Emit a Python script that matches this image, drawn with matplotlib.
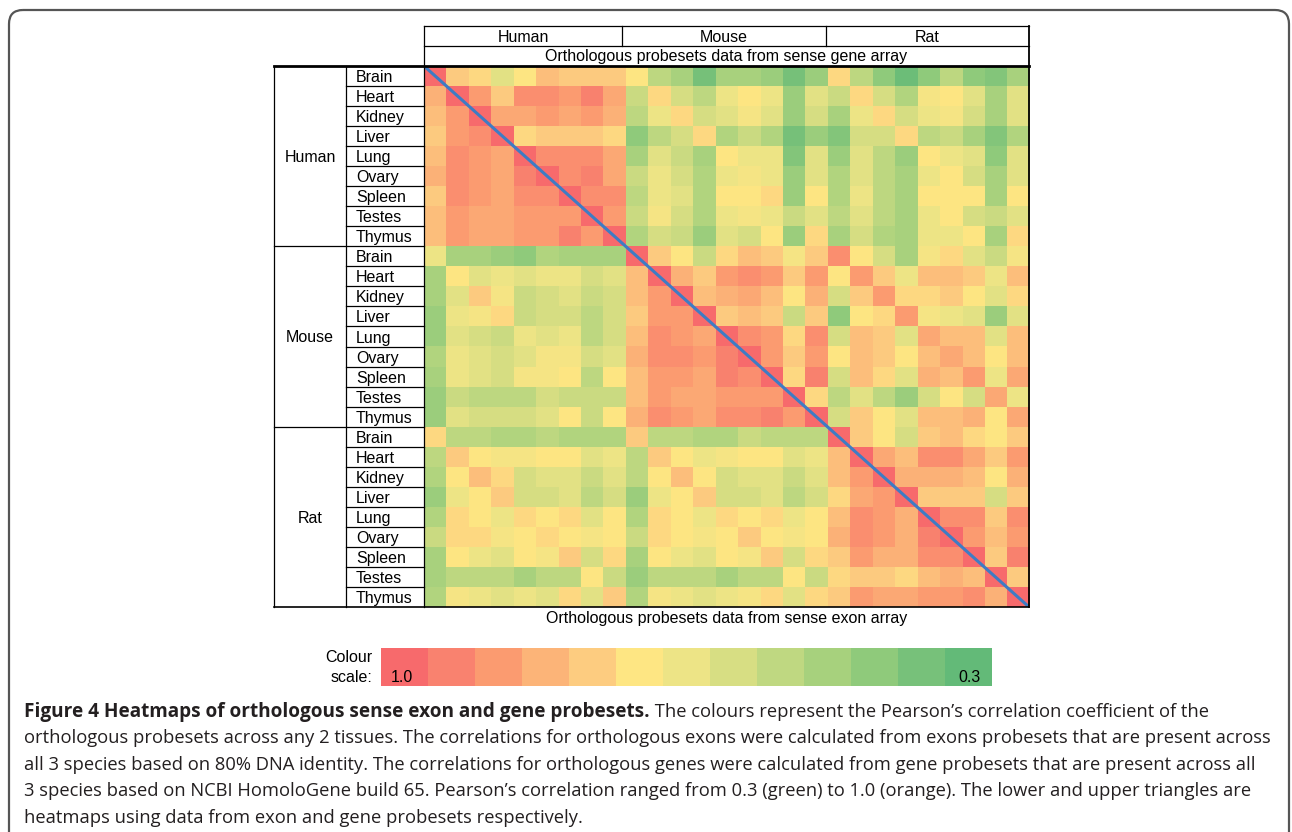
import numpy as np
import matplotlib
matplotlib.use("Agg")
import matplotlib.pyplot as plt
from matplotlib.colors import LinearSegmentedColormap, ListedColormap, Normalize
from matplotlib.patches import FancyBboxPatch

W, H = 1292, 832

species = ["Human", "Mouse", "Rat"]
tissues = ["Brain", "Heart", "Kidney", "Liver", "Lung", "Ovary", "Spleen", "Testes", "Thymus"]

# colour scale steps, 1.0 (left) -> 0.3 (right)
scale_colors = ["#F76A6C", "#F9826F", "#FB9B70", "#FCB478", "#FDCC80", "#FEE683", "#EDE486",
                "#D7DE83", "#BFD881", "#A7D17D", "#8FCA7B", "#77C17A", "#63BA78"]
scale_range = [1.0, 0.3]

# Pearson correlation, rows/cols = Human, Mouse, Rat x 9 tissues
# lower triangle: exon array, upper triangle: gene array
corr_human = [
    [1.00, 0.77, 0.74, 0.62, 0.71, 0.80, 0.77, 0.77, 0.77, 0.71, 0.53, 0.48, 0.36, 0.48, 0.48, 0.45, 0.36, 0.45, 0.74, 0.53, 0.42, 0.33, 0.42, 0.53, 0.42, 0.39, 0.48],
    [0.83, 1.00, 0.88, 0.77, 0.91, 0.91, 0.88, 0.94, 0.85, 0.56, 0.74, 0.59, 0.53, 0.65, 0.71, 0.65, 0.45, 0.62, 0.56, 0.74, 0.59, 0.50, 0.68, 0.71, 0.62, 0.48, 0.62],
    [0.80, 0.88, 1.00, 0.85, 0.85, 0.88, 0.85, 0.88, 0.83, 0.53, 0.65, 0.74, 0.59, 0.62, 0.68, 0.62, 0.45, 0.59, 0.48, 0.65, 0.74, 0.59, 0.65, 0.68, 0.59, 0.48, 0.62],
    [0.77, 0.88, 0.91, 1.00, 0.74, 0.77, 0.77, 0.77, 0.74, 0.42, 0.53, 0.59, 0.74, 0.50, 0.56, 0.50, 0.36, 0.45, 0.39, 0.59, 0.59, 0.74, 0.53, 0.56, 0.48, 0.39, 0.50],
    [0.80, 0.91, 0.88, 0.85, 1.00, 0.91, 0.91, 0.91, 0.85, 0.48, 0.62, 0.56, 0.48, 0.71, 0.65, 0.65, 0.39, 0.62, 0.45, 0.62, 0.53, 0.45, 0.71, 0.65, 0.62, 0.42, 0.62],
    [0.83, 0.91, 0.88, 0.85, 0.94, 1.00, 0.91, 0.94, 0.85, 0.56, 0.65, 0.59, 0.50, 0.65, 0.68, 0.65, 0.45, 0.62, 0.50, 0.62, 0.53, 0.48, 0.65, 0.71, 0.59, 0.48, 0.62],
    [0.77, 0.91, 0.88, 0.85, 0.91, 0.91, 1.00, 0.91, 0.91, 0.53, 0.65, 0.62, 0.50, 0.71, 0.71, 0.74, 0.45, 0.71, 0.50, 0.65, 0.53, 0.48, 0.71, 0.71, 0.71, 0.48, 0.71],
    [0.80, 0.88, 0.85, 0.85, 0.88, 0.88, 0.88, 1.00, 0.88, 0.56, 0.68, 0.59, 0.50, 0.65, 0.68, 0.65, 0.56, 0.62, 0.53, 0.62, 0.53, 0.48, 0.65, 0.71, 0.59, 0.56, 0.62],
    [0.80, 0.88, 0.85, 0.85, 0.88, 0.88, 0.94, 0.88, 1.00, 0.50, 0.59, 0.56, 0.45, 0.62, 0.59, 0.71, 0.45, 0.74, 0.48, 0.59, 0.50, 0.48, 0.65, 0.65, 0.71, 0.48, 0.74],
]
corr_mouse = [
    [0.65, 0.48, 0.48, 0.45, 0.42, 0.50, 0.48, 0.48, 0.48, 1.00, 0.77, 0.71, 0.56, 0.74, 0.80, 0.77, 0.68, 0.77, 0.91, 0.71, 0.59, 0.48, 0.68, 0.74, 0.62, 0.56, 0.68],
    [0.48, 0.71, 0.62, 0.65, 0.62, 0.65, 0.65, 0.59, 0.62, 0.80, 1.00, 0.83, 0.77, 0.88, 0.91, 0.88, 0.77, 0.88, 0.71, 0.88, 0.77, 0.65, 0.80, 0.80, 0.77, 0.65, 0.80],
    [0.48, 0.62, 0.77, 0.68, 0.56, 0.59, 0.62, 0.56, 0.59, 0.80, 0.88, 1.00, 0.80, 0.83, 0.85, 0.80, 0.71, 0.83, 0.59, 0.77, 0.88, 0.74, 0.74, 0.77, 0.71, 0.62, 0.74],
    [0.45, 0.65, 0.68, 0.74, 0.56, 0.59, 0.59, 0.53, 0.59, 0.77, 0.88, 0.88, 1.00, 0.77, 0.80, 0.77, 0.56, 0.77, 0.42, 0.71, 0.74, 0.88, 0.68, 0.65, 0.62, 0.45, 0.62],
    [0.45, 0.62, 0.59, 0.56, 0.65, 0.62, 0.65, 0.53, 0.59, 0.80, 0.91, 0.88, 0.85, 1.00, 0.91, 0.88, 0.74, 0.91, 0.59, 0.80, 0.77, 0.62, 0.85, 0.80, 0.80, 0.62, 0.80],
    [0.50, 0.65, 0.62, 0.59, 0.62, 0.68, 0.68, 0.59, 0.62, 0.83, 0.91, 0.91, 0.88, 0.94, 1.00, 0.88, 0.77, 0.88, 0.71, 0.80, 0.77, 0.71, 0.80, 0.85, 0.80, 0.71, 0.80],
    [0.48, 0.65, 0.62, 0.59, 0.68, 0.68, 0.71, 0.53, 0.71, 0.80, 0.88, 0.88, 0.85, 0.94, 0.91, 1.00, 0.74, 0.94, 0.59, 0.80, 0.74, 0.62, 0.83, 0.80, 0.88, 0.65, 0.85],
    [0.45, 0.56, 0.53, 0.53, 0.53, 0.59, 0.56, 0.56, 0.56, 0.80, 0.88, 0.85, 0.85, 0.88, 0.88, 0.88, 1.00, 0.74, 0.53, 0.62, 0.53, 0.45, 0.59, 0.71, 0.59, 0.85, 0.65],
    [0.45, 0.62, 0.59, 0.59, 0.59, 0.62, 0.71, 0.56, 0.71, 0.83, 0.91, 0.88, 0.85, 0.91, 0.91, 0.94, 0.88, 1.00, 0.59, 0.77, 0.71, 0.62, 0.80, 0.80, 0.83, 0.71, 0.85],
]
corr_rat = [
    [0.74, 0.53, 0.53, 0.50, 0.50, 0.53, 0.50, 0.50, 0.50, 0.77, 0.53, 0.53, 0.50, 0.50, 0.56, 0.53, 0.53, 0.53, 1.00, 0.77, 0.71, 0.59, 0.77, 0.80, 0.74, 0.71, 0.77],
    [0.53, 0.77, 0.71, 0.68, 0.68, 0.71, 0.71, 0.62, 0.65, 0.53, 0.77, 0.71, 0.65, 0.68, 0.71, 0.71, 0.62, 0.65, 0.80, 1.00, 0.85, 0.80, 0.91, 0.91, 0.85, 0.77, 0.88],
    [0.50, 0.71, 0.80, 0.74, 0.59, 0.62, 0.62, 0.56, 0.62, 0.53, 0.71, 0.80, 0.71, 0.59, 0.62, 0.62, 0.56, 0.62, 0.80, 0.88, 1.00, 0.83, 0.83, 0.83, 0.80, 0.71, 0.83],
    [0.45, 0.65, 0.71, 0.77, 0.59, 0.59, 0.62, 0.53, 0.59, 0.45, 0.65, 0.71, 0.77, 0.59, 0.59, 0.62, 0.53, 0.59, 0.74, 0.85, 0.88, 1.00, 0.77, 0.77, 0.77, 0.59, 0.77],
    [0.50, 0.74, 0.71, 0.65, 0.74, 0.71, 0.74, 0.62, 0.71, 0.50, 0.74, 0.71, 0.65, 0.74, 0.71, 0.74, 0.65, 0.71, 0.80, 0.91, 0.88, 0.83, 1.00, 0.91, 0.91, 0.77, 0.91],
    [0.56, 0.74, 0.74, 0.68, 0.71, 0.74, 0.71, 0.68, 0.71, 0.56, 0.74, 0.71, 0.68, 0.71, 0.77, 0.71, 0.68, 0.71, 0.83, 0.91, 0.88, 0.83, 0.94, 1.00, 0.88, 0.80, 0.88],
    [0.48, 0.71, 0.65, 0.62, 0.71, 0.68, 0.77, 0.59, 0.74, 0.48, 0.71, 0.65, 0.62, 0.71, 0.68, 0.77, 0.59, 0.74, 0.77, 0.88, 0.83, 0.83, 0.91, 0.91, 1.00, 0.77, 0.94],
    [0.48, 0.53, 0.53, 0.53, 0.48, 0.53, 0.53, 0.71, 0.56, 0.45, 0.53, 0.53, 0.53, 0.48, 0.53, 0.53, 0.71, 0.56, 0.74, 0.77, 0.77, 0.74, 0.80, 0.83, 0.80, 1.00, 0.77],
    [0.50, 0.68, 0.65, 0.62, 0.65, 0.62, 0.74, 0.62, 0.77, 0.50, 0.68, 0.65, 0.62, 0.65, 0.68, 0.74, 0.62, 0.74, 0.77, 0.88, 0.85, 0.85, 0.88, 0.88, 0.91, 0.83, 1.00],
]

top_label = "Orthologous probesets data from sense gene array"
bottom_label = "Orthologous probesets data from sense exon array"
caption_bold = "Figure 4 Heatmaps of orthologous sense exon and gene probesets."
caption_lines = [
    " The colours represent the Pearson\u2019s correlation coefficient of the",
    "orthologous probesets across any 2 tissues. The correlations for orthologous exons were calculated from exons probesets that are present across",
    "all 3 species based on 80% DNA identity. The correlations for orthologous genes were calculated from gene probesets that are present across all",
    "3 species based on NCBI HomoloGene build 65. Pearson\u2019s correlation ranged from 0.3 (green) to 1.0 (orange). The lower and upper triangles are",
    "heatmaps using data from exon and gene probesets respectively.",
]

corr = np.vstack([corr_human, corr_mouse, corr_rat])
n = corr.shape[0]
nt = len(tissues)

# geometry in pixels (y from top)
hx0, hx1, hy0, hy1 = 424, 1029, 66, 607
cell_h = (hy1 - hy0) / n
lab_font = "Liberation Sans"
lab_size = 11.5

fig = plt.figure(figsize=(W / 100, H / 100), dpi=100)

# heatmap
ax = fig.add_axes([hx0 / W, 1 - hy1 / H, (hx1 - hx0) / W, (hy1 - hy0) / H])
cmap = LinearSegmentedColormap.from_list("corr", scale_colors[::-1])
ax.imshow(corr, cmap=cmap, norm=Normalize(scale_range[1], scale_range[0]),
          aspect="auto", interpolation="nearest")
ax.plot([-0.5, n - 0.5], [-0.5, n - 0.5], color="#3E7CC4", lw=2.2, solid_capstyle="butt")
ax.set_xlim(-0.5, n - 0.5)
ax.set_ylim(n - 0.5, -0.5)
ax.axis("off")

# colour scale bar
sx0, sx1, sy0, sy1 = 381, 992, 648, 686
sax = fig.add_axes([sx0 / W, 1 - sy1 / H, (sx1 - sx0) / W, (sy1 - sy0) / H])
steps = np.linspace(scale_range[0], scale_range[1], len(scale_colors))
sax.imshow(steps[None, :], cmap=ListedColormap(scale_colors[::-1]),
           norm=Normalize(scale_range[1], scale_range[0]), aspect="auto")
sax.axis("off")

# overlay in pixel coordinates for table lines and text
ov = fig.add_axes([0, 0, 1, 1])
ov.set_xlim(0, W)
ov.set_ylim(H, 0)
ov.axis("off")


def hl(y, x0, x1, lw=0.9):
    ov.plot([x0, x1], [y, y], color="black", lw=lw, solid_capstyle="projecting")


def vl(x, y0, y1, lw=0.9):
    ov.plot([x, x], [y0, y1], color="black", lw=lw, solid_capstyle="projecting")


# outer frame
ov.add_patch(FancyBboxPatch((9, 10), 1280, 900, boxstyle="round,pad=0,rounding_size=14",
                            fc="none", ec="#555555", lw=1.6))

# header box
hl(26, hx0, hx1)
hl(46, hx0, hx1)
col_edges = [hx0, 622, 826, hx1]
for x in col_edges[1:-1]:
    vl(x, 26, 46)
for i, sp in enumerate(species):
    ov.text((col_edges[i] + col_edges[i + 1]) / 2, 37, sp, ha="center", va="center",
            family=lab_font, fontsize=lab_size)
ov.text((hx0 + hx1) / 2, 57, top_label, ha="center", va="center",
        family=lab_font, fontsize=lab_size)

# side table
tx0, tx1 = 274, 346
vl(hx0, 26, hy1)
vl(hx1, 26, hy1, lw=1.3)
vl(tx0, hy0, hy1)
vl(tx1, hy0, hy1)
hl(hy0, tx0, hx1, lw=2.0)
hl(hy1, tx0, hx1, lw=1.2)
for r in range(1, n):
    y = hy0 + r * cell_h
    hl(y, tx0 if r % nt == 0 else tx1, hx0)
for r in range(n):
    ov.text(356, hy0 + (r + 0.5) * cell_h + 1.5, tissues[r % nt], ha="left", va="center",
            family=lab_font, fontsize=lab_size)
for k, sp in enumerate(species):
    ov.text((tx0 + tx1) / 2, hy0 + (k + 0.5) * nt * cell_h + 1.5, sp, ha="center", va="center",
            family=lab_font, fontsize=lab_size)
ov.text((hx0 + hx1) / 2, 619, bottom_label, ha="center", va="center",
        family=lab_font, fontsize=lab_size)

# colour scale labels
ov.text(372, 658, "Colour", ha="right", va="center", family=lab_font, fontsize=lab_size)
ov.text(372, 677, "scale:", ha="right", va="center", family=lab_font, fontsize=lab_size)
ov.text(391, 678, f"{scale_range[0]:.1f}", ha="left", va="center", family=lab_font, fontsize=lab_size)
ov.text(981, 678, f"{scale_range[1]:.1f}", ha="right", va="center", family=lab_font, fontsize=lab_size)

# caption, fitted to the text widths of the reference
cap_font = "Open Sans"
cap_color = "#231F20"
cap_x, cap_y0, cap_dy = 24, 712, 26.4
renderer = fig.canvas.get_renderer()


def fit(t, width):
    for _ in range(4):
        w = t.get_window_extent(renderer).width
        t.set_fontsize(t.get_fontsize() * width / w)
    return t.get_fontsize()


lines = []
for i, line in enumerate(caption_lines[1:], start=1):
    lines.append(ov.text(cap_x, cap_y0 + i * cap_dy, line, family=cap_font, fontsize=12,
                         va="center", color=cap_color))
cap_size = fit(lines[0], 1266 - cap_x)
for t in lines[1:]:
    t.set_fontsize(cap_size)

bold = ov.text(cap_x, cap_y0, caption_bold, family=cap_font, fontsize=cap_size,
               weight="bold", va="center", color=cap_color)
fit(bold, 652 - cap_x)
bx = bold.get_window_extent(renderer).x1
ov.text(bx, cap_y0, caption_lines[0], family=cap_font, fontsize=cap_size,
        va="center", color=cap_color)

fig.savefig("out.png", dpi=100)
